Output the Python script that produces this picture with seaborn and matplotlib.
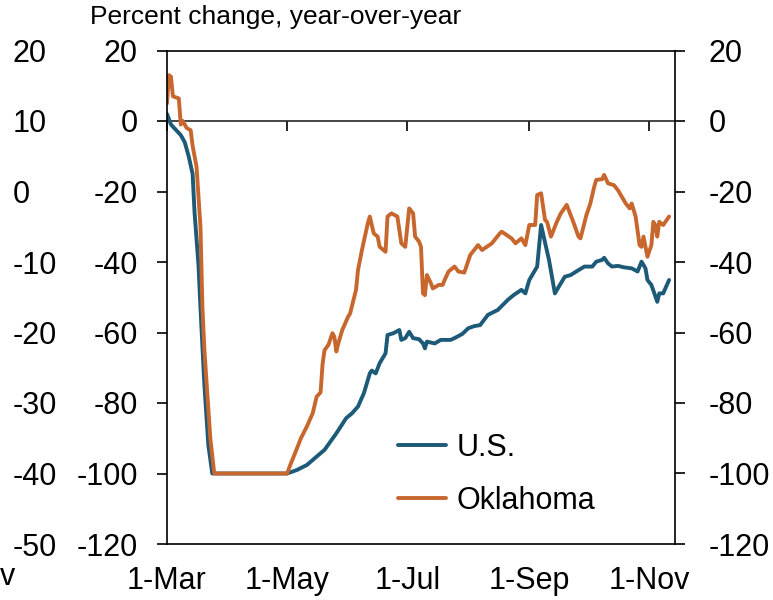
import pandas as pd
import numpy as np
import matplotlib
matplotlib.use("Agg")
import matplotlib.pyplot as plt
import matplotlib.dates as mdates
import seaborn as sns

# --- DATA (day offsets from 1-Mar) ---
start = pd.Timestamp("2020-03-01")

us_days = [0, 2, 7, 9, 11, 13, 14, 16, 17, 19, 21, 23, 40, 61, 66, 71, 76, 80, 86, 91,
           94, 97, 100, 103, 104, 106, 108, 111, 112, 115, 118, 119, 121, 123, 125, 128,
           130, 131, 132, 136, 139, 144, 146, 150, 153, 156, 159, 163, 168, 173, 176, 180,
           182, 184, 188, 190, 192, 194, 197, 199, 202, 205, 209, 212, 216, 218, 221, 222,
           224, 226, 229, 232, 236, 239, 241, 243, 244, 246, 249, 250, 252, 255]
us_vals = [2, -1, -4, -6, -10, -15, -26, -41, -53, -75, -92, -100, -100, -100, -99, -97.6,
           -95.2, -93.3, -88.6, -84.3, -82.9, -81, -77.2, -71.6, -70.8, -71.6, -68.7, -65.9,
           -60.7, -60.2, -59.3, -62.1, -61.6, -59.8, -61.6, -61.9, -63.1, -64.5, -62.6, -63.1,
           -62.1, -62.1, -61.6, -60.4, -58.8, -58.2, -57.9, -55, -53.6, -50.8, -49.4, -47.9,
           -48.9, -45.1, -41.3, -29.5, -34.5, -39.4, -48.9, -47, -44.2, -43.7, -42.3, -41.3,
           -41.3, -39.9, -39.4, -38.8, -40.4, -41.3, -41.1, -41.5, -41.8, -42.7, -39.9, -41.8,
           -45.1, -46.5, -51.3, -48.9, -48.9, -45.1]

ok_days = [0, 1, 2, 3, 6, 7, 8, 10, 12, 13, 15, 17, 18, 19, 22, 24, 40, 61, 63, 65, 68, 71,
           74, 76, 78, 79, 80, 82, 84, 85, 86, 87, 89, 92, 93, 96, 97, 99, 102, 103, 105, 107,
           108, 111, 112, 114, 117, 119, 121, 123, 125, 126, 128, 129, 130, 131, 132, 134,
           135, 138, 140, 141, 143, 146, 148, 151, 154, 158, 160, 165, 169, 170, 175, 177,
           180, 182, 184, 187, 188, 190, 192, 193, 195, 198, 200, 203, 205, 206, 209, 210,
           213, 215, 217, 218, 221, 222, 224, 227, 229, 233, 235, 236, 238, 240, 241, 242,
           244, 246, 247, 248, 249, 250, 252, 255]
ok_vals = [5, 13, 12.6, 7, 6.4, -1, 0, -2, -2.6, -7, -13, -30, -53, -65, -90, -100, -100,
           -100, -97, -94.3, -90, -86.7, -82.9, -78.2, -77, -69, -65, -63.5, -60.2, -61.2,
           -65.4, -63.1, -59.3, -55.5, -54.6, -47.9, -42.3, -36.6, -29, -27.1, -31.9, -32.8,
           -35.7, -37.1, -27.1, -26.2, -27.1, -34.7, -35.7, -24.8, -26.2, -32.8, -34.2, -35.7,
           -48.9, -49.4, -43.7, -46, -47.5, -46.5, -46.5, -45.1, -42.7, -41.3, -42.7, -43,
           -38, -35.2, -36.6, -34.7, -31.9, -31.4, -33.3, -34.7, -33.3, -35.2, -29.5, -29.5,
           -21, -20.5, -28.1, -28.6, -32.8, -28.6, -26.2, -23.8, -26.7, -28.1, -32.8, -33.3,
           -26.7, -23.4, -18.6, -16.7, -16.5, -15.3, -17.7, -18.2, -19.6, -23.4, -24.8, -23.4,
           -27.1, -35.2, -35.7, -32.8, -38.5, -35.2, -28.6, -29.5, -32.8, -28.6, -29.5, -27.1]

y_ticks = [20, 0, -20, -40, -60, -80, -100, -120]
ghost_ticks = [20, 10, 0, -10, -20, -30, -40, -50]
month_ticks = ["2020-03-01", "2020-05-01", "2020-07-01", "2020-09-01", "2020-11-01"]

us = pd.DataFrame({"date": start + pd.to_timedelta(us_days, unit="D"), "value": us_vals})
ok = pd.DataFrame({"date": start + pd.to_timedelta(ok_days, unit="D"), "value": ok_vals})

# --- STYLE ---
sns.set_style("white")
plt.rcParams["font.family"] = ["Liberation Sans", "DejaVu Sans"]
plt.rcParams["text.color"] = "black"
plt.rcParams["xtick.color"] = "black"
plt.rcParams["ytick.color"] = "black"
plt.rcParams["xtick.labelcolor"] = "black"
plt.rcParams["ytick.labelcolor"] = "black"
US_COL = "#1d5a78"
OK_COL = "#c7672e"
FS = 22

fig = plt.figure(figsize=(7.73, 6), dpi=100)
ax = fig.add_axes([167 / 773, 1 - 544 / 600, 508 / 773, 493.5 / 600])

sns.lineplot(data=us, x="date", y="value", ax=ax, color=US_COL, lw=2.8, label="U.S.")
sns.lineplot(data=ok, x="date", y="value", ax=ax, color=OK_COL, lw=2.8, label="Oklahoma")

ax.set_xlim(pd.Timestamp("2020-03-01"), pd.Timestamp("2020-11-14"))
ax.set_ylim(-120, 20)
ax.set_xlabel("")
ax.set_ylabel("")

for s in ax.spines.values():
    s.set_visible(True)
    s.set_color("black")
    s.set_linewidth(1.2)

ax.set_yticks(y_ticks)
ax.set_yticklabels([str(v) for v in y_ticks])
ax.tick_params(axis="y", direction="out", length=7, width=1.2, pad=14, labelsize=FS, colors="black")

ax.set_xticks(pd.to_datetime(month_ticks))
ax.xaxis.set_major_formatter(mdates.DateFormatter("1-%b"))
ax.tick_params(axis="x", length=0, pad=16, labelsize=FS, colors="black")

# zero line with the month ticks hanging from it
sec = ax.secondary_xaxis(120 / 140)
sec.set_xticks(pd.to_datetime(month_ticks))
sec.tick_params(axis="x", direction="in", length=7, width=1.2, labelbottom=False, labeltop=False)
sec.set_xticklabels([])
sec.spines["top"].set_linewidth(1.2)
sec.spines["bottom"].set_linewidth(1.2)

# right axis mirror
axr = ax.twinx()
axr.set_ylim(-120, 20)
axr.set_yticks(y_ticks)
axr.set_yticklabels([str(v) for v in y_ticks])
axr.tick_params(axis="y", direction="out", length=7, width=1.2, pad=17, labelsize=FS, colors="black")
for s in axr.spines.values():
    s.set_visible(False)

# leftover axis labels of a neighbouring chart at the far left
axg = ax.twinx()
axg.set_ylim(-50, 20)
axg.set_yticks(ghost_ticks)
axg.set_yticklabels([str(v) for v in ghost_ticks])
axg.yaxis.set_ticks_position("left")
axg.tick_params(axis="y", length=0, pad=111, labelsize=FS, colors="black")
for lab in axg.get_yticklabels():
    lab.set_horizontalalignment("left")
for s in axg.spines.values():
    s.set_visible(False)
fig.text(0.0, 0.025, "v", fontsize=FS, ha="left", va="baseline")

leg = ax.legend(loc="upper left", bbox_to_anchor=(0.455, 0.225), frameon=False,
                fontsize=FS, handlelength=1.55, handletextpad=0.35, labelspacing=0.75,
                borderaxespad=0, borderpad=0)

fig.text(90 / 773, 1 - 5 / 600, "Percent change, year-over-year", fontsize=19,
         ha="left", va="top")

fig.savefig("out.png", dpi=100)
